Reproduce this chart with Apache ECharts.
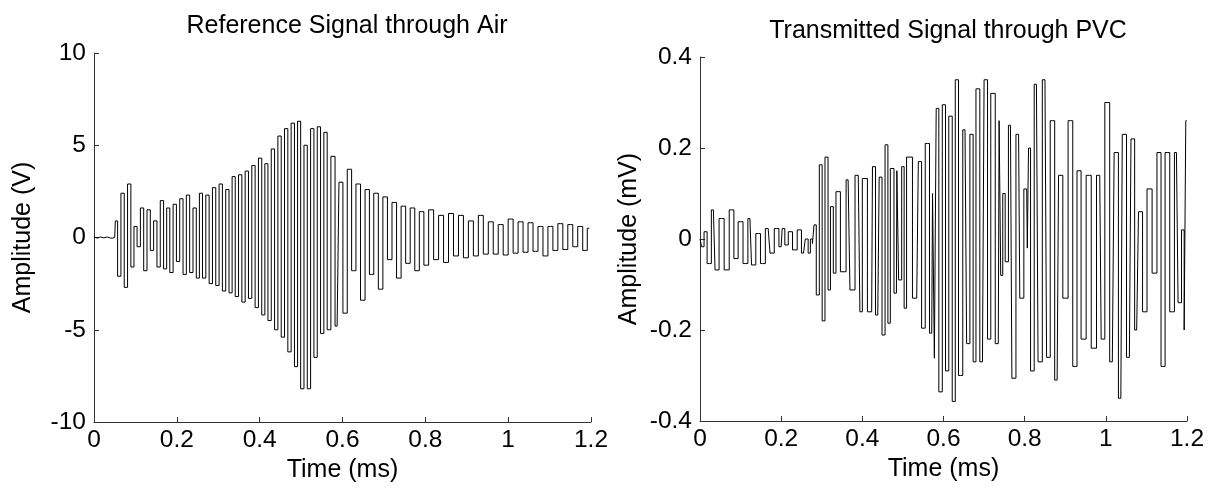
<!DOCTYPE html>
<html>
<head>
<meta charset="utf-8">
<script src="https://cdn.jsdelivr.net/npm/echarts@6/dist/echarts.min.js"></script>
<style>
html,body{margin:0;padding:0;background:#fff;}
#chart{width:1213px;height:491px;}
</style>
</head>
<body>
<div id="chart"></div>
<script>
// ---------- Data ----------
const xTicks = [0, 0.2, 0.4, 0.6, 0.8, 1.0, 1.2];
const titles = ['Reference Signal through Air', 'Transmitted Signal through PVC'];
const yNames = ['Amplitude (V)', 'Amplitude (mV)'];
const xName = 'Time (ms)';

// Reference signal through air (time in ms, amplitude in V)
const airTime = [
  0, 0.008, 0.016, 0.024, 0.032, 0.040, 0.050,
  0.053,0.061,0.069,0.077,0.085,0.093,0.100,0.108,0.116,0.124,
  0.132,0.140,0.148,0.156,0.164,0.172,0.179,0.187,0.195,0.203,
  0.211,0.219,0.227,0.235,0.243,0.251,0.258,0.266,0.274,0.282,
  0.290,0.298,0.306,0.314,0.322,0.330,0.337,0.345,0.353,0.361,
  0.369,0.377,0.385,0.393,0.401,0.409,0.416,0.424,0.432,0.440,
  0.448,0.456,0.464,0.472,0.480,0.488,0.495,0.503,0.511,0.519,
  0.527,0.535,0.543,0.551,0.559,
  0.567,0.577,0.587,0.596,0.606,0.617,0.627,0.638,0.649,0.660,
  0.670,0.681,0.692,0.703,0.714,0.725,0.736,0.747,0.758,0.769,
  0.780,0.791,0.802,0.814,0.826,0.838,0.850,0.862,0.874,0.886,
  0.898,0.910,0.922,0.934,0.946,0.958,0.970,0.982,0.994,1.006,
  1.018,1.030,1.042,1.054,1.066,1.078,1.090,1.102,1.114,1.126,
  1.138,1.150,1.162,1.174,1.186,1.196
];
const airVolt = [
  0.03, -0.03, 0.03, -0.02, 0.03, -0.03, 0.0,
  0.9,-2.1,2.4,-2.7,2.9,-1.6,0.6,-0.5,1.6,-1.8,
  1.5,-0.7,0.9,-1.6,2.0,-1.7,1.6,-1.9,1.8,-1.3,
  2.1,-2.0,2.3,-1.9,1.6,-2.2,2.4,-2.2,2.3,-2.5,
  2.7,-2.6,2.9,-2.9,2.6,-3.0,3.3,-3.2,3.4,-3.5,
  3.6,-3.3,3.9,-3.8,4.3,-4.2,4.0,-4.5,4.8,-5.0,
  5.5,-5.4,5.9,-6.2,6.2,-7.0,6.3,-8.2,5.0,-8.2,
  5.9,-6.5,6.0,-5.2,5.7,
  -5.0,4.4,-4.8,3.0,-4.1,3.7,-1.8,2.9,-3.4,2.6,
  -2.0,2.4,-2.8,2.2,-1.2,1.9,-2.2,1.7,-1.4,1.6,
  -1.8,1.4,-1.5,1.5,-1.2,1.2,-1.35,1.3,-1.0,1.2,
  -1.1,0.9,-1.0,1.2,-0.9,0.85,-0.9,0.7,-0.95,1.0,
  -0.85,0.85,-0.8,0.8,-0.75,0.6,-1.0,0.6,-0.7,0.75,
  -0.65,0.7,-0.5,0.6,-0.7,0.5
];

// Transmitted signal through PVC (time in ms, amplitude in mV)
const pvcTime = [
  0.000,0.008,0.012,0.023,0.033,0.041,0.053,0.066,0.078,0.089,
  0.099,0.113,0.123,0.131,0.144,0.154,0.168,0.177,0.189,0.200,
  0.205,0.213,0.222,0.234,0.245,0.255,0.264,0.269,0.275,0.279,
  0.283,0.290,0.298,0.304,0.312,0.319,0.324,0.333,0.337,0.355,
  0.365,0.374,0.390,0.398,0.402,0.423,0.427,0.438,0.445,0.452,
  0.460,0.466,0.472,0.484,0.486,0.493,0.501,0.505,0.513,0.534,
  0.542,0.550,0.560,0.571,0.575,0.580,0.584,0.593,0.601,0.609,
  0.617,0.626,0.632,0.642,0.653,0.661,0.669,0.677,0.683,0.696,
  0.704,0.713,0.720,0.735,0.739,0.743,0.749,0.755,0.765,0.772,
  0.785,0.791,0.805,0.808,0.811,0.818,0.829,0.837,0.850,0.858,
  0.868,0.880,0.887,0.901,0.913,0.924,0.934,0.944,0.959,0.969,
  0.985,0.992,1.003,1.016,1.025,1.037,1.044,1.058,1.066,1.076,
  1.085,1.096,1.107,1.121,1.131,1.141,1.151,1.164,1.174,1.182,
  1.191,1.195,1.199
];
const pvcMilliVolt = [
  0.000,-0.017,0.016,-0.054,0.064,-0.068,0.045,-0.068,0.064,-0.043,
  0.038,-0.054,0.045,-0.057,0.012,-0.054,0.023,-0.031,0.023,-0.017,
  0.023,-0.013,0.016,-0.024,0.020,-0.031,0.000,-0.031,0.000,-0.010,
  0.031,-0.123,0.163,-0.180,0.180,-0.112,0.071,-0.075,0.104,-0.072,
  0.130,-0.112,0.140,-0.160,0.133,-0.160,0.159,-0.167,0.136,-0.211,
  0.207,-0.185,0.155,-0.119,0.150,-0.090,0.159,-0.152,0.180,-0.130,
  0.170,-0.196,0.210,-0.207,0.100,-0.262,0.287,-0.336,0.295,-0.290,
  0.270,-0.357,0.350,-0.300,0.240,-0.230,0.230,-0.270,0.330,-0.270,
  0.350,-0.220,0.320,-0.230,0.260,-0.080,0.100,-0.050,0.250,-0.306,
  0.230,-0.130,0.110,-0.020,0.200,-0.290,0.340,-0.270,0.350,-0.260,
  0.260,-0.310,0.140,-0.130,0.260,-0.280,0.150,-0.220,0.140,-0.240,
  0.140,-0.220,0.300,-0.270,0.190,-0.350,0.230,-0.260,0.220,-0.200,
  0.060,-0.160,0.110,-0.075,0.190,-0.280,0.190,-0.160,0.190,-0.140,
  0.020,-0.200,0.260
];

// ---------- Chart ----------
const FONT = '"Liberation Sans", Arial, Helvetica, sans-serif';
const airData = airTime.map((t, i) => [t, airVolt[i]]);
const pvcData = pvcTime.map((t, i) => [t, pvcMilliVolt[i]]);

function xAxisCfg(gridIndex) {
  return {
    gridIndex, type: 'value', min: 0, max: 1.2, interval: 0.2,
    name: xName, nameLocation: 'middle', nameGap: 30,
    nameTextStyle: { color: '#000', fontSize: 25, fontFamily: FONT },
    axisLine: { show: true, onZero: false, lineStyle: { color: '#333', width: 1 } },
    axisTick: { show: true, inside: true, length: 5, lineStyle: { color: '#333' } },
    axisLabel: { color: '#000', fontSize: 24.5, fontFamily: FONT, margin: 6 },
    splitLine: { show: false }
  };
}
function yAxisCfg(gridIndex, min, max, interval, name) {
  return {
    gridIndex, type: 'value', min, max, interval,
    name, nameLocation: 'middle', nameGap: 58, nameRotate: 90,
    nameTextStyle: { color: '#000', fontSize: 25, fontFamily: FONT },
    axisLine: { show: true, onZero: false, lineStyle: { color: '#333', width: 1 } },
    axisTick: { show: true, inside: true, length: 5, lineStyle: { color: '#333' } },
    axisLabel: { color: '#000', fontSize: 24.5, fontFamily: FONT, margin: 8 },
    splitLine: { show: false }
  };
}

const chart = echarts.init(document.getElementById('chart'), null, { renderer: 'canvas' });
chart.setOption({
  animation: false,
  backgroundColor: '#fff',
  title: [
    { text: titles[0], left: 342, top: 9, textAlign: 'center',
      textStyle: { color: '#000', fontSize: 25, fontWeight: 'normal', fontFamily: FONT } },
    { text: titles[1], left: 943, top: 14, textAlign: 'center',
      textStyle: { color: '#000', fontSize: 25, fontWeight: 'normal', fontFamily: FONT } }
  ],
  grid: [
    { left: 94, right: 622, top: 53, bottom: 69 },
    { left: 700, right: 26, top: 57, bottom: 70 }
  ],
  xAxis: [xAxisCfg(0), xAxisCfg(1)],
  yAxis: [
    yAxisCfg(0, -10, 10, 5, yNames[0]),
    yAxisCfg(1, -0.4, 0.4, 0.2, yNames[1])
  ],
  series: [
    { type: 'line', step: 'middle', xAxisIndex: 0, yAxisIndex: 0, data: airData, showSymbol: false,
      lineStyle: { color: '#000', width: 1 }, silent: true },
    { type: 'line', step: 'middle', xAxisIndex: 1, yAxisIndex: 1, data: pvcData, showSymbol: false,
      lineStyle: { color: '#000', width: 1 }, silent: true }
  ]
});
</script>
</body>
</html>
